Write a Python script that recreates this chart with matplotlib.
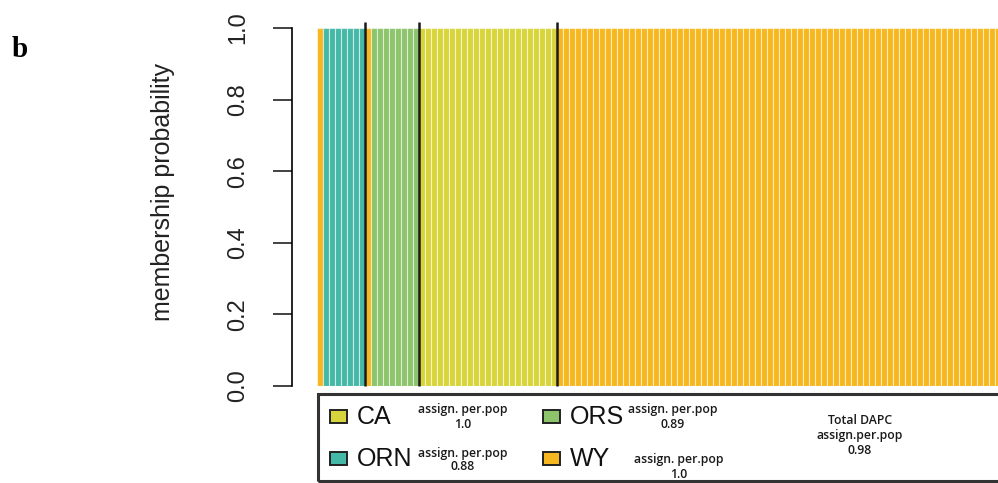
import matplotlib.pyplot as plt
from matplotlib.patches import Rectangle

W, H = 998, 483

# sampled populations (left to right) and the cluster each individual was assigned to
pops = ['ORN', 'ORS', 'CA', 'WY']
assigned = {
    'ORN': [('WY', 1), ('ORN', 7)],
    'ORS': [('WY', 1), ('ORS', 8)],
    'CA': [('CA', 23)],
    'WY': [('WY', 74)],
}
member_prob = 1.0

colors = {'ORN': '#45b8a8', 'ORS': '#8dc46c', 'CA': '#d8d53c', 'WY': '#f7b71e'}

# legend entries and assignment success per population
legend_pops = ['CA', 'ORN', 'ORS', 'WY']
assign_rate = ['1.0', '0.88', '0.89', '1.0']
total_rate = '0.98'


def fx(x):
    return x / W


def fy(y):
    return 1 - y / H


plt.rcParams['font.family'] = ['Liberation Sans', 'DejaVu Sans']
fig = plt.figure(figsize=(W / 100, H / 100), dpi=100)
ax = fig.add_axes([fx(317), fy(386), fx(998 - 317), (386 - 28) / H])

# one bar per individual
ind_colors = []
for p in pops:
    for clus, n in assigned[p]:
        ind_colors += [colors[clus]] * n
xs = list(range(len(ind_colors)))
ax.bar(xs, [member_prob] * len(xs), width=1, align='edge', color=ind_colors,
       edgecolor=(1, 1, 1, 0.55), linewidth=0.8)

# population boundaries
bounds = []
total = 0
for p in pops[:-1]:
    total += sum(n for _, n in assigned[p])
    bounds.append(total)
ax.vlines(bounds, 0, 1.018, color='#1a1a1a', lw=1.8, clip_on=False, zorder=5)

ax.set_xlim(0, 113.5)
ax.set_ylim(0, 1)
for s in ['top', 'right', 'bottom']:
    ax.spines[s].set_visible(False)
ax.spines['left'].set_position(('outward', 18))
ax.spines['left'].set_linewidth(1.2)
ax.set_xticks([])
ax.set_yticks([0, 0.2, 0.4, 0.6, 0.8, 1.0])
ax.set_yticklabels(['0.0', '0.2', '0.4', '0.6', '0.8', '1.0'], rotation=90, va='center')
ax.tick_params(axis='y', length=14, width=1.2, pad=17, labelsize=17, colors='#222222')

fig.text(fx(163), fy(192), 'membership probability', rotation=90, ha='center',
         va='center', fontsize=18, color='#222222')
fig.text(fx(12), fy(57), 'b', family='Liberation Serif', weight='bold', fontsize=21,
         ha='left', va='baseline')

# legend box
fig.patches.append(Rectangle((fx(318), fy(481)), 1.0, (481 - 394) / H,
                             transform=fig.transFigure, fill=False,
                             edgecolor='#333333', lw=2.2, clip_on=False))

col_x = [330, 330, 543, 543]
row_y = [417, 459, 417, 459]
txt_x = [463, 463, 673, 679]
assign_y = [410, 453, 410, 459]
rate_y = [425, 466, 425, 474]
small = dict(family='Open Sans', weight='semibold', fontsize=8.8, ha='center',
             va='center', color='#1a1a1a')
for i, p in enumerate(legend_pops):
    fig.patches.append(Rectangle((fx(col_x[i]), fy(row_y[i] + 6)), 17 / W, 13 / H,
                                 transform=fig.transFigure, facecolor=colors[p],
                                 edgecolor='#222222', lw=1.4))
    fig.text(fx(col_x[i] + 27), fy(row_y[i]), p, fontsize=18, ha='left',
             va='center', color='#111111')
    fig.text(fx(txt_x[i]), fy(assign_y[i]), 'assign. per.pop', **small)
    fig.text(fx(txt_x[i]), fy(rate_y[i]), assign_rate[i], **small)

fig.text(fx(860), fy(421), 'Total DAPC', **small)
fig.text(fx(860), fy(436), 'assign.per.pop', **small)
fig.text(fx(860), fy(451), total_rate, **small)

fig.savefig('out.png', dpi=100)
